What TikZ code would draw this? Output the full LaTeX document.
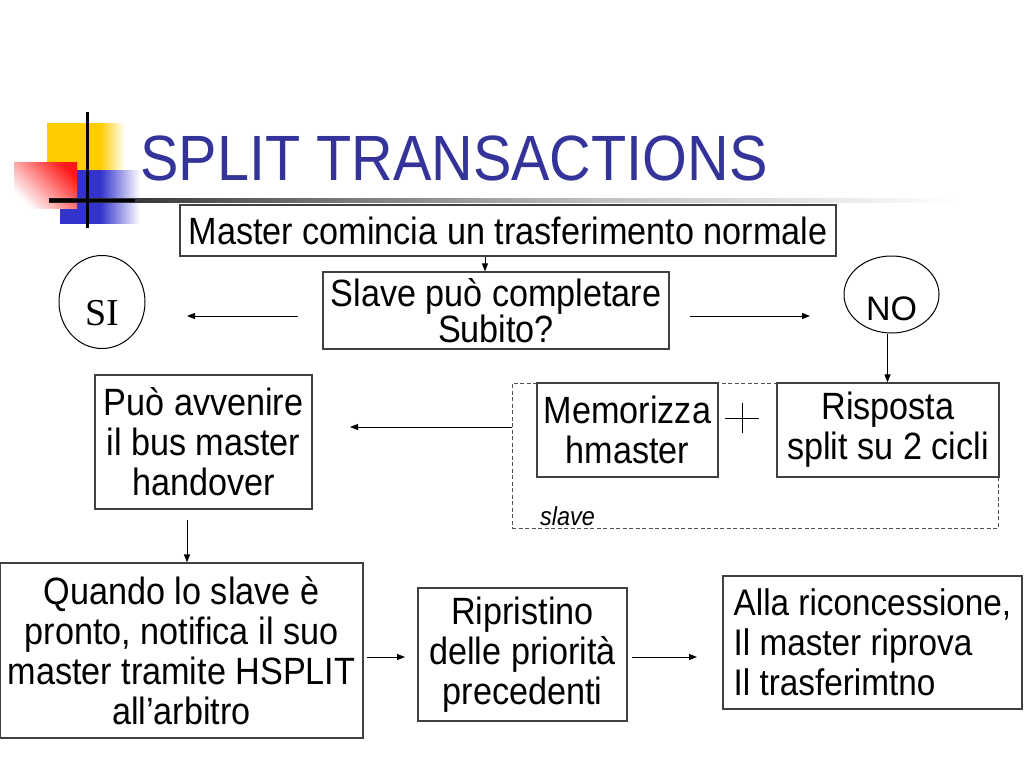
\documentclass[tikz,border=0pt]{standalone}
\usepackage{fontspec}
\setmainfont{Liberation Sans}[FakeStretch=0.9]
\newfontfamily\arialF{Liberation Sans}
\newfontfamily\serifF{Liberation Serif}
\usetikzlibrary{arrows.meta,shapes.geometric}
\definecolor{titleblue}{HTML}{333399}
\definecolor{boxgray}{HTML}{404040}
\definecolor{dashgray}{HTML}{505050}
\definecolor{logoY}{HTML}{FFCC00}
\definecolor{logoB}{HTML}{3333CC}
\definecolor{logoR}{HTML}{FF1A1A}
\pgfdeclarehorizontalshading{yfade}{100bp}{color(0bp)=(logoY); color(59bp)=(logoY); color(75bp)=(white); color(100bp)=(white)}
\pgfdeclarehorizontalshading{bfade}{100bp}{color(0bp)=(logoB); color(50bp)=(logoB); color(75bp)=(white); color(100bp)=(white)}
\pgfdeclarehorizontalshading{lfade}{100bp}{color(0bp)=(black!90); color(25bp)=(black!90); color(35bp)=(black!65); color(55bp)=(black!25); color(75bp)=(white); color(100bp)=(white)}
\begin{document}
\begin{tikzpicture}[x=1pt,y=-1pt,
  box/.style={draw=boxgray, line width=1.2pt, inner sep=0pt, align=center,
    font=\fontsize{38}{40}\selectfont},
  arr/.style={-{Triangle[length=8pt,width=6pt]}, line width=1pt},
  ell/.style={ellipse, draw=black, line width=1pt, inner sep=0pt}]
\useasboundingbox[fill=white] (0,0) rectangle (1024,768);

% logo
\shade[shading=yfade] (47,123) rectangle (125,200);
\shade[shading=bfade] (60,170) rectangle (140,223);
\shade[shading=axis, top color=logoR, bottom color=white, shading angle=-45] (14,162) rectangle (77,208);
\shade[shading=lfade] (49,198.5) rectangle (960,202);
\fill[black] (49,198.5) rectangle (135,202);
\draw[line width=3pt] (87,112) -- (87,228);

% title
\node[anchor=base west, inner sep=0pt, text=titleblue, font=\fontsize{64}{70}\selectfont] (title) at (140,180) {SPLIT TRANSACTIONS};

% nodes
\node[box, minimum width=656pt, minimum height=51pt] (m1) at (508,230.5) {Master comincia un trasferimento normale};
\node[box, minimum width=346pt, minimum height=77pt, font=\fontsize{38}{33}\selectfont] (s1) at (496,310.5) {Slave può completare\\Subito?};
\node[ell, minimum width=86pt, minimum height=93pt, font=\serifF\fontsize{38}{40}\selectfont, text height=47pt, text depth=0pt] (si) at (102,302) {SI};
\node[ell, minimum width=95pt, minimum height=77pt, font=\arialF\fontsize{34}{36}\selectfont, text height=52pt, text depth=0pt] (no) at (891.5,294.5) {NO};

\node[draw=dashgray, dash pattern=on 4pt off 2.5pt, line width=1pt, minimum width=486pt, minimum height=145pt, inner sep=0pt] (dash) at (755,455.5) {};
\node[box, minimum width=181pt, minimum height=94pt] (mem) at (627.5,430) {Memorizza\\hmaster};
\node[box, minimum width=222pt, minimum height=94pt] (ris) at (888,430) {Risposta\\split su 2 cicli};
\node[anchor=base west, inner sep=0pt, font=\itshape\fontsize{26}{30}\selectfont] (sl) at (540,525) {slave};
\coordinate (pl) at (742,418);
\draw[line width=0.8pt] (pl) ++(-17,0) -- ++(34,0) (pl) ++(0,-15) -- ++(0,30);

\node[box, minimum width=217pt, minimum height=134pt] (puo) at (203.5,442) {Può avvenire\\il bus master\\handover};
\node[box, minimum width=363pt, minimum height=175pt] (qu) at (181.5,650.5) {Quando lo slave è\\pronto, notifica il suo\\master tramite HSPLIT\\all’arbitro};
\node[box, minimum width=209pt, minimum height=133pt] (rip) at (522.5,654.5) {Ripristino\\delle priorità\\precedenti};
\node[box, align=left, minimum width=299pt, minimum height=133pt, font=\fontsize{37}{40}\selectfont] (alla) at (872.5,642.5) {Alla riconcessione,\\Il master riprova\\Il trasferimtno};

% connectors
\coordinate (sia) at (298,316);
\coordinate (sib) at (187,316);
\coordinate (noa) at (690,316);
\coordinate (nob) at (810,316);
\coordinate (hoe) at (350,427);
\coordinate (pdn) at (187,520);
\coordinate (qa) at (367,657);
\coordinate (qb) at (405,657);
\coordinate (ra) at (632,657);
\coordinate (rb) at (697,657);
\draw[arr] ([xshift=-23pt]m1.south) -- ([xshift=-23pt]m1.south |- s1.north);
\draw[arr] (sia) -- (sib);
\draw[arr] (noa) -- (nob);
\draw[arr] ([xshift=-4pt]no.south) -- ([xshift=-4pt]no.south |- ris.north);
\draw[arr] (dash.west |- hoe) -- (hoe);
\draw[arr] (pdn) -- (pdn |- qu.north);
\draw[arr] (qa) -- (qb);
\draw[arr] (ra) -- (rb);
\end{tikzpicture}
\end{document}
